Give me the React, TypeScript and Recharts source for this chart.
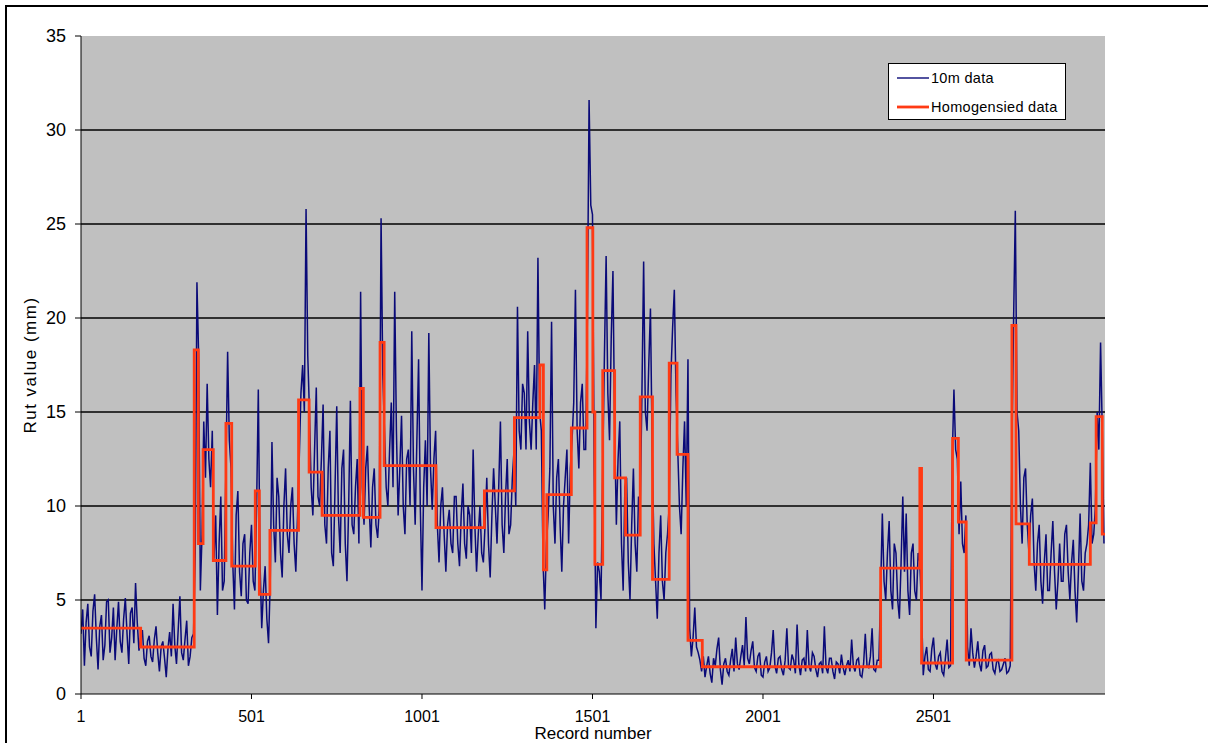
import { CartesianGrid, Legend, Line, LineChart, XAxis, YAxis } from "recharts";

// record numbers shown on the category axis
const recordTicks = [1, 501, 1001, 1501, 2001, 2501];
const rutTicks = [0, 5, 10, 15, 20, 25, 30, 35];
const gridLevels = [5, 10, 15, 20, 25, 30];
const lastRecord = 3004;
const sampleStep = 5;

// 10m data, read every 5 records (mm); one row = 100 records
const rutValues = [
  3.2, 4.5, 1.5, 3.8, 4.8, 2.5, 2.0, 4.4, 5.3, 3.0, 1.3, 3.6, 4.2, 1.8, 2.6, 4.9, 5.0, 2.2, 3.0, 4.6,
  1.8, 3.5, 4.9, 2.8, 2.2, 4.0, 5.1, 3.2, 1.6, 4.3, 4.6, 2.7, 5.9, 3.8, 2.3, 3.0, 3.4, 1.9, 1.5, 2.8,
  3.1, 2.0, 1.7, 2.9, 3.6, 2.2, 1.2, 2.5, 2.8, 1.9, 0.9, 2.4, 3.3, 2.0, 4.8, 2.6, 1.6, 3.4, 5.2, 2.2,
  1.8, 2.9, 3.9, 1.5, 2.0, 3.0, 3.2, 7.5, 21.9, 18.0, 5.5, 8.5, 14.5, 11.5, 16.5, 12.5, 11.0, 14.0, 7.2, 9.5,
  4.2, 8.0, 10.5, 5.5, 6.0, 12.0, 18.2, 13.5, 12.0, 7.0, 4.5, 9.5, 10.8, 6.5, 5.2, 8.0, 8.5, 5.0, 4.8, 7.5,
  9.0, 6.0, 5.5, 10.0, 16.2, 7.0, 3.5, 5.5, 6.8, 4.0, 2.7, 6.0, 13.4, 9.0, 7.0, 11.5, 10.5, 7.5, 6.2, 10.0,
  12.0, 8.5, 7.5, 10.0, 11.0, 8.0, 6.5, 9.5, 12.5, 16.0, 17.5, 15.0, 25.8, 18.0, 15.0, 11.0, 9.5, 13.0, 16.3, 10.5,
  10.0, 12.5, 15.4, 9.0, 8.0, 12.0, 14.0, 7.5, 6.8, 11.0, 15.3, 9.5, 7.5, 12.0, 13.0, 8.0, 6.0, 10.0, 15.6, 9.0,
  8.5, 11.0, 12.5, 8.0, 21.4, 11.0, 9.0, 12.0, 13.2, 10.0, 7.8, 11.0, 12.0, 9.0, 8.3, 10.0, 25.3, 17.0, 14.0, 11.0,
  10.0, 13.0, 15.5, 11.0, 21.4, 14.0, 9.5, 12.0, 14.8, 10.0, 8.5, 12.5, 13.0, 10.0, 19.3, 12.0, 9.0, 13.5, 17.8, 10.0,
  5.5, 11.0, 13.5, 10.0, 19.2, 12.0, 9.8, 12.5, 14.0, 9.0, 7.0, 10.0, 11.0, 8.5, 6.5, 9.0, 9.8, 8.0, 7.5, 10.5,
  10.5, 8.0, 6.8, 9.5, 11.2, 8.0, 7.2, 10.0, 9.5, 7.5, 13.0, 9.0, 6.5, 8.5, 10.0, 7.5, 7.0, 9.0, 11.5, 8.0,
  6.2, 9.5, 12.0, 10.0, 8.0, 11.0, 14.5, 9.0, 7.5, 10.5, 12.5, 8.5, 9.0, 11.5, 13.0, 10.0, 20.6, 14.0, 13.0, 16.5,
  16.0, 13.0, 19.3, 14.5, 13.0, 15.5, 17.5, 13.0, 23.2, 15.0, 14.0, 7.0, 4.5, 8.0, 9.5, 12.0, 19.8, 10.0, 8.0, 11.5,
  12.5, 9.0, 6.5, 10.0, 11.5, 13.0, 8.0, 12.0, 13.5, 15.5, 21.5, 14.0, 12.0, 15.5, 16.5, 13.0, 13.0, 20.0, 31.6, 26.0,
  25.5, 12.0, 3.5, 7.0, 6.5, 5.0, 12.0, 18.0, 23.3, 16.0, 13.5, 19.0, 22.5, 14.0, 9.0, 12.5, 14.5, 8.0, 5.5, 11.0,
  11.5, 7.0, 5.0, 9.0, 12.0, 8.0, 6.5, 10.5, 10.0, 16.0, 23.0, 15.0, 14.0, 17.5, 20.5, 13.0, 8.0, 6.0, 4.0, 7.5,
  9.5, 6.0, 5.0, 7.5, 8.5, 10.0, 17.0, 19.5, 21.5, 16.0, 13.0, 10.0, 8.5, 12.0, 14.5, 10.0, 17.8, 3.5, 2.0, 3.0,
  4.6, 2.5, 2.2, 1.8, 1.2, 2.0, 0.9, 1.5, 2.0, 1.1, 0.6, 1.9, 1.5, 2.4, 3.0, 1.3, 0.5, 1.6, 1.9, 1.2,
  1.0, 1.8, 2.4, 1.2, 3.0, 1.6, 1.3, 2.0, 2.6, 1.5, 4.1, 1.9, 1.6, 2.3, 2.8, 1.4, 1.2, 2.0, 2.2, 1.0,
  0.9, 1.7, 2.0, 1.2, 1.4, 2.2, 3.4, 1.5, 1.1, 1.9, 2.0, 1.3, 1.0, 1.8, 3.5, 1.4, 1.3, 2.1, 1.8, 1.1,
  3.7, 1.6, 1.0, 1.8, 1.9, 1.2, 3.4, 1.5, 1.2, 2.2, 2.0, 1.3, 0.9, 1.6, 1.7, 1.1, 3.6, 1.4, 1.1, 1.9,
  1.9, 1.2, 0.8, 1.7, 1.6, 1.1, 2.1, 1.4, 1.0, 1.5, 1.8, 1.2, 2.9, 1.5, 1.2, 1.8, 1.9, 1.0, 0.9, 1.6,
  3.2, 1.5, 1.4, 2.0, 3.5, 1.3, 1.2, 1.8, 1.8, 5.5, 9.6, 6.0, 5.0, 7.5, 9.2, 5.5, 4.5, 8.0, 7.5, 5.0,
  4.0, 7.0, 10.5, 6.5, 9.6, 5.5, 4.2, 7.5, 8.0, 5.5, 5.0, 7.5, 7.0, 4.5, 1.0, 2.0, 2.5, 1.3, 1.2, 2.4,
  3.0, 1.6, 1.3, 2.0, 2.2, 1.2, 1.0, 1.9, 2.9, 1.4, 1.5, 12.5, 16.2, 13.0, 12.5, 8.5, 11.3, 8.0, 7.5, 9.5,
  2.5, 1.5, 3.5, 2.2, 1.4, 2.0, 2.8, 1.6, 1.2, 2.3, 2.6, 1.4, 1.5, 2.1, 2.2, 1.3, 1.1, 1.7, 1.8, 1.2,
  1.3, 1.6, 1.9, 1.1, 1.2, 1.5, 13.0, 20.0, 25.7, 15.0, 14.0, 10.0, 8.0, 11.5, 12.0, 9.0, 7.5, 9.5, 10.4, 7.0,
  5.5, 8.0, 9.0, 6.0, 4.8, 7.0, 8.5, 5.5, 5.5, 7.5, 9.2, 6.5, 4.5, 6.0, 8.0, 6.0, 6.0, 8.5, 9.0, 6.5,
  5.0, 7.0, 8.2, 5.5, 3.8, 6.5, 9.6, 6.0, 5.5, 7.5, 8.0, 9.0, 12.3, 8.0, 8.5, 10.0, 15.0, 13.0, 18.7, 14.0,
  8.0,
];

// homogenised sections: first record of each section and its level
const stepStarts = [
  1, 176, 333, 345, 359, 389, 426, 443, 512, 524,
  555, 639, 670, 708, 819, 829, 878, 890, 1042, 1184,
  1272, 1347, 1357, 1367, 1439, 1485, 1502, 1508, 1531, 1566,
  1598, 1641, 1677, 1726, 1749, 1781, 1823, 2346, 2461, 2466,
  2557, 2574, 2597, 2731, 2743, 2782, 2961, 2978, 2996,
];
const stepLevels = [
  3.5, 2.5, 18.3, 8.0, 13.0, 7.1, 14.4, 6.8, 10.8, 5.3,
  8.7, 15.65, 11.8, 9.5, 16.25, 9.4, 18.7, 12.15, 8.85, 10.8,
  14.7, 17.5, 6.6, 10.6, 14.15, 24.8, 15.0, 6.9, 17.2, 11.5,
  8.45, 15.8, 6.1, 17.6, 12.75, 2.85, 1.45, 6.7, 12.0, 1.65,
  13.6, 9.15, 1.8, 19.6, 9.05, 6.9, 9.1, 14.75, 8.5,
];

const tenMetre = rutValues.map((v, i) => ({ rec: 1 + i * sampleStep, v }));
const homogenised = [
  ...stepStarts.map((rec, i) => ({ rec, h: stepLevels[i] })),
  { rec: lastRecord, h: stepLevels[stepLevels.length - 1] },
];

const BLUE = "#0a0a78";
const RED = "#ff3a14";
const narrow = "'Liberation Sans Narrow', 'Liberation Sans', Arial, sans-serif";

function LegendBox() {
  const row = (top: number, color: string, width: number, text: string) => (
    <div style={{ position: "absolute", left: 0, top, height: 20, width: "100%" }}>
      <svg width={40} height={20} style={{ position: "absolute", left: 6, top: 0 }}>
        <line x1={2} y1={10} x2={34} y2={10} stroke={color} strokeWidth={width} />
      </svg>
      <span style={{ position: "absolute", left: 42, top: 2, fontSize: 14.5, letterSpacing: 0.3, lineHeight: "16px" }}>
        {text}
      </span>
    </div>
  );
  return (
    <div
      style={{
        position: "relative",
        width: 178,
        height: 57,
        boxSizing: "border-box",
        background: "#fff",
        border: "1px solid #000",
        fontFamily: "'Liberation Sans', Arial, sans-serif",
        color: "#000",
      }}
    >
      {row(4, BLUE, 1.4, "10m data")}
      {row(33, RED, 2.8, "Homogensied data")}
    </div>
  );
}

export default function App() {
  return (
    <div style={{ position: "absolute", left: 0, top: 0, width: 1208, height: 743, background: "#fff", overflow: "hidden" }}>
      <div
        style={{
          position: "absolute",
          left: 5,
          top: 5,
          right: -4,
          bottom: -4,
          borderTop: "2px solid #000",
          borderLeft: "2px solid #000",
        }}
      />
      <LineChart
        width={1208}
        height={743}
        data={tenMetre}
        margin={{ top: 36, right: 103, bottom: 0, left: 0 }}
        style={{ position: "absolute", left: 0, top: 0 }}
      >
        <CartesianGrid
          vertical={false}
          horizontalValues={gridLevels}
          stroke="#000"
          strokeWidth={1.3}
          fill="#c0c0c0"
          fillOpacity={1}
        />
        <XAxis
          type="number"
          dataKey="rec"
          domain={[1, lastRecord]}
          ticks={recordTicks}
          interval={0}
          allowDataOverflow
          height={49}
          tickSize={5}
          tickMargin={12}
          stroke="#000"
          tick={{ fill: "#000", fontSize: 16, fontFamily: narrow }}
          label={{ value: "Record number", position: "insideBottom", offset: 4, fill: "#000", fontSize: 17, fontFamily: narrow }}
        />
        <YAxis
          domain={[0, 35]}
          ticks={rutTicks}
          interval={0}
          width={81}
          tickSize={6}
          tickMargin={9}
          stroke="#000"
          tick={{ fill: "#000", fontSize: 18, fontFamily: narrow }}
        />
        <Line
          dataKey="v"
          name="10m data"
          type="linear"
          stroke={BLUE}
          strokeWidth={1.5}
          dot={false}
          isAnimationActive={false}
        />
        <Line
          data={homogenised}
          dataKey="h"
          name="Homogensied data"
          type="stepAfter"
          stroke={RED}
          strokeWidth={2.8}
          dot={false}
          isAnimationActive={false}
        />
        <Legend
          layout="vertical"
          align="center"
          verticalAlign="middle"
          wrapperStyle={{ left: 888, top: 63, width: 178, height: 57 }}
          content={() => <LegendBox />}
        />
      </LineChart>
      <div
        style={{
          position: "absolute",
          left: 31,
          top: 365,
          transform: "translate(-50%, -50%) rotate(-90deg)",
          whiteSpace: "nowrap",
          fontFamily: "'Liberation Sans', Arial, sans-serif",
          fontSize: 17,
          letterSpacing: 1.5,
          color: "#000",
        }}
      >
        Rut value (mm)
      </div>
    </div>
  );
}
